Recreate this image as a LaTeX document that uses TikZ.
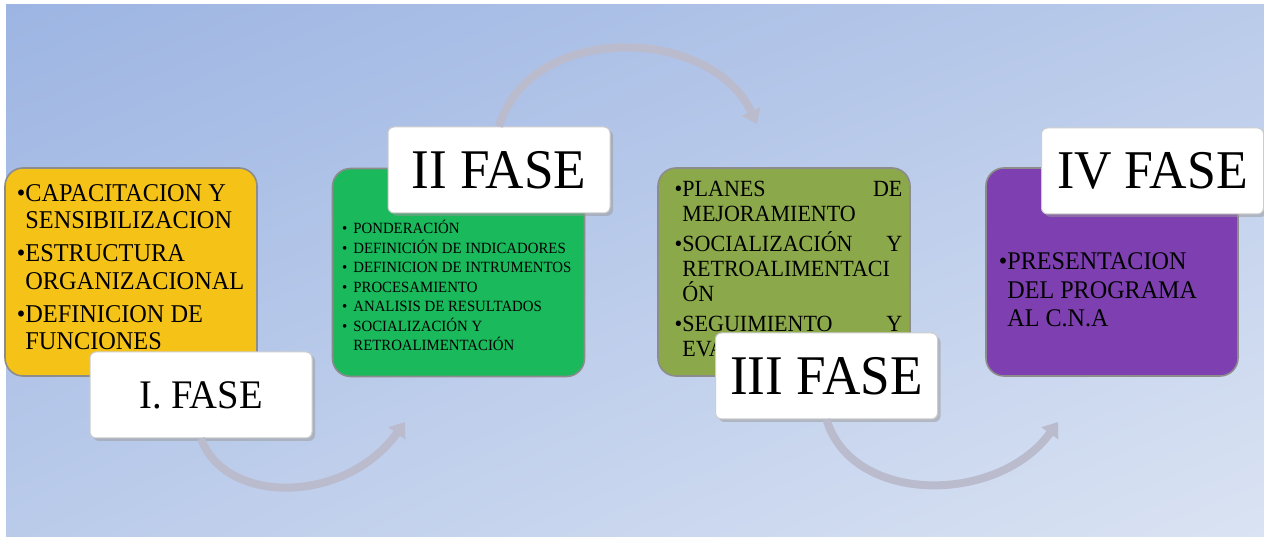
\documentclass[tikz,border=0pt]{standalone}
\usepackage{fontspec}
\setmainfont{Liberation Serif}[FakeStretch=0.95]
\usepackage{tikz}
\usetikzlibrary{arrows.meta,shadows,shadings}

\definecolor{bgdark}{HTML}{9DB5E3}
\definecolor{bgmid}{HTML}{BACBEA}
\definecolor{bglight}{HTML}{DAE3F3}
\definecolor{faseyellow}{HTML}{F5C218}
\definecolor{fasegreen}{HTML}{19B95C}
\definecolor{faseolive}{HTML}{8BA84B}
\definecolor{fasepurple}{HTML}{7E40B0}
\definecolor{arrowgray}{HTML}{C9C9DD}

\tikzset{
  phasebox/.style={rectangle, rounded corners=9pt, minimum width=126pt, minimum height=104pt,
    draw=black!45, line width=0.8pt, inner sep=0pt},
  labelbox/.style={rectangle, rounded corners=3pt, minimum width=111pt, minimum height=43pt,
    fill=white, draw=black!20, line width=0.5pt, inner sep=0pt,
    drop shadow={shadow xshift=1.5pt, shadow yshift=-1.5pt, fill=black!40, opacity=0.5}},
  itemtext/.style={anchor=base west, align=left, inner sep=0pt, text=black},
  turnarrow/.style={draw=arrowgray!93!black, line width=4pt,
    -{Triangle[width=10pt,length=7pt,fill=arrowgray!93!black]}},
}
\newcommand{\bul}{\llap{\textbullet}}
\newcommand{\jline}[2]{\hbox to 110pt{#1\hfill #2}}

\begin{document}
\begin{tikzpicture}[x=0.5pt,y=-0.5pt]
  %%%%% BACKGROUND %%%%%
  \useasboundingbox (0,0) rectangle (1264,539);
  \shade[upper left=bgdark, upper right=bgmid, lower left=bgmid, lower right=bglight]
    (6,5) rectangle (1264,537);

  %%%%% PHASE BOXES %%%%%
  \node[phasebox, fill=faseyellow] (fase1) at (131,272) {};
  \node[phasebox, fill=fasegreen] (fase2) at (458.5,272.5) {};
  \node[phasebox, fill=faseolive] (fase3) at (784,272) {};
  \node[phasebox, fill=fasepurple] (fase4) at (1112,272) {};

  %%%%% TEXTS (placed at the baseline of their last line) %%%%%
  \node[itemtext, font=\fontsize{12.8}{13.75}\selectfont] (items1) at (25,350)
    {\bul CAPACITACION Y\\SENSIBILIZACION\\[2.75pt]
     \bul ESTRUCTURA\\ORGANIZACIONAL\\[2.75pt]
     \bul DEFINICION DE\\FUNCIONES};

  \node[itemtext, font=\fontsize{7.8}{9.75}\selectfont] (items2) at (353,351)
    {\llap{\textbullet\hspace{3pt}}PONDERACIÓN\\
     \llap{\textbullet\hspace{3pt}}DEFINICIÓN DE INDICADORES\\
     \llap{\textbullet\hspace{3pt}}DEFINICION DE INTRUMENTOS\\
     \llap{\textbullet\hspace{3pt}}PROCESAMIENTO\\
     \llap{\textbullet\hspace{3pt}}ANALISIS DE RESULTADOS\\
     \llap{\textbullet\hspace{3pt}}SOCIALIZACIÓN Y\\RETROALIMENTACIÓN};

  \node[itemtext, font=\fontsize{11.6}{12.5}\selectfont] (items3) at (682,357)
    {\bul\jline{PLANES}{DE}\\MEJORAMIENTO\\[2.5pt]
     \bul\jline{SOCIALIZACIÓN}{Y}\\RETROALIMENTACI\\ÓN\\[2.5pt]
     \bul\jline{SEGUIMIENTO}{Y}\\EVA};

  \node[itemtext, font=\fontsize{12.7}{14.25}\selectfont] (items4) at (1007,327)
    {\bul PRESENTACION\\DEL PROGRAMA\\AL C.N.A};

  %%%%% LABELS %%%%%
  \node[labelbox, font=\fontsize{20.3}{20.3}\selectfont] (lab1) at (201,395) {I. FASE};
  \node[labelbox, font=\fontsize{28}{28}\selectfont] (lab2) at (499,170) {II FASE};
  \node[labelbox, font=\fontsize{28}{28}\selectfont] (lab3) at (826.5,376) {III FASE};
  \node[labelbox, font=\fontsize{27.3}{27.3}\selectfont] (lab4) at (1152.5,171) {IV FASE};

  %%%%% ARROWS %%%%%
  \coordinate (tip1) at (405,422);
  \coordinate (tip2) at (757,124);
  \coordinate (tip3) at (1058,422);
  \draw[turnarrow] (lab1.south) .. controls (225,505) and (345,505) .. (tip1);
  \draw[turnarrow] (lab2.north) .. controls (530,22) and (710,25) .. (tip2);
  \draw[turnarrow] (lab3.south) .. controls (852,505) and (998,505) .. (tip3);
\end{tikzpicture}
\end{document}
